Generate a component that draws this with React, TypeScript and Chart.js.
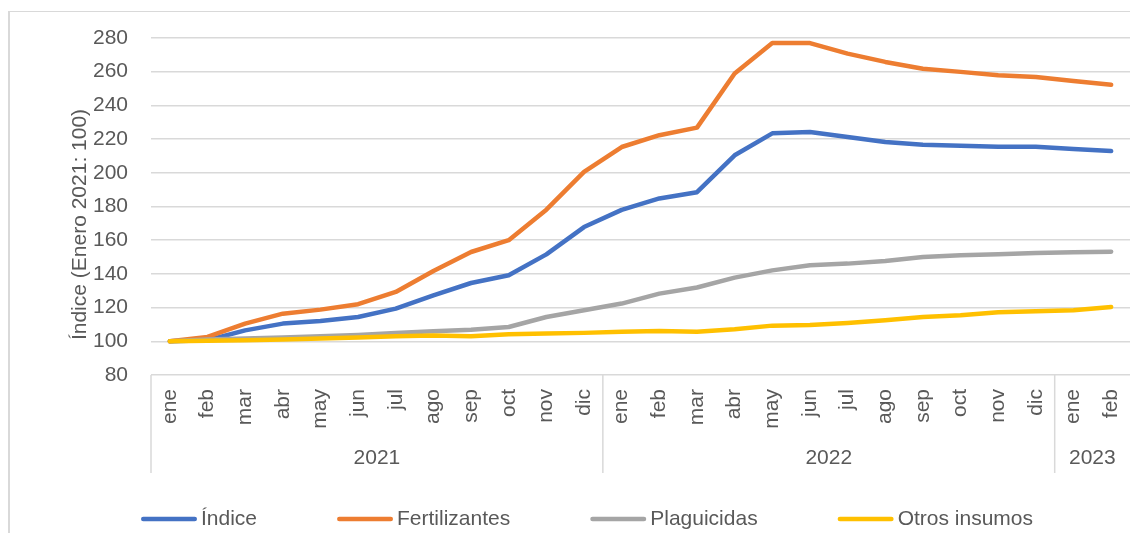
import React, { useEffect, useRef } from 'react';
import { Chart, registerables } from 'chart.js';

Chart.register(...registerables);

const FONT = "'Liberation Sans', Arial, sans-serif";
const FONT_SIZE = 21;
const TEXT_COLOR = '#595959';
const GRID_COLOR = '#d9d9d9';

const months = ['ene', 'feb', 'mar', 'abr', 'may', 'jun', 'jul', 'ago', 'sep', 'oct', 'nov', 'dic',
  'ene', 'feb', 'mar', 'abr', 'may', 'jun', 'jul', 'ago', 'sep', 'oct', 'nov', 'dic',
  'ene', 'feb'];
const years = ['2021', '2022', '2023'];
const monthsPerYear = [12, 12, 2];

const indice = [100, 100.6, 106.5, 110.5, 112, 114.4, 119.4, 127.3, 134.6, 139.2, 151.6, 167.8,
  178, 184.8, 188.5, 210.4, 223.4, 224.2, 221.2, 218.3, 216.7, 216.1, 215.5, 215.4, 214.1, 212.9];
const fertilizantes = [100, 102.6, 110.5, 116.4, 118.8, 122, 129.3, 141.7, 153, 160, 178.1, 200.5,
  215.3, 222.3, 226.8, 258.9, 277, 277, 270.7, 265.8, 261.8, 259.9, 257.9, 256.9, 254.5, 252.3];
const plaguicidas = [100, 101, 101.6, 102.2, 103, 103.8, 105, 105.9, 106.9, 108.5, 114.4, 118.4,
  122.4, 128.3, 131.9, 137.8, 142.1, 145.1, 146.1, 147.7, 150, 151, 151.6, 152.4, 152.8, 153.2];
const otrosInsumos = [100, 100.4, 100.6, 101, 101.6, 102.2, 103, 103.4, 103, 104.2, 104.6, 105,
  105.6, 106.1, 105.6, 107.1, 109.3, 109.7, 110.9, 112.5, 114.4, 115.4, 117.2, 117.8, 118.4, 120.4];

const seriesNames = ['Índice', 'Fertilizantes', 'Plaguicidas', 'Otros insumos'];
const seriesValues = [indice, fertilizantes, plaguicidas, otrosInsumos];
const seriesColors = ['#4472C4', '#ED7D31', '#A5A5A5', '#FFC000'];

const yMin = 80;
const yMax = 280;
const yStep = 20;
const yAxisTitle = 'Índice (Enero 2021: 100)';

const decorPlugin = {
  id: 'decor',
  afterDraw(chart: any) {
    const ctx = chart.ctx;
    const xs = chart.scales.x;
    const area = chart.chartArea;
    const step = xs.getPixelForValue(1) - xs.getPixelForValue(0);
    ctx.save();
    // year separators and labels
    ctx.strokeStyle = GRID_COLOR;
    ctx.lineWidth = 1.5;
    ctx.font = `${FONT_SIZE}px ${FONT}`;
    ctx.fillStyle = TEXT_COLOR;
    ctx.textAlign = 'center';
    ctx.textBaseline = 'middle';
    let idx = 0;
    years.forEach((yr, k) => {
      const start = xs.getPixelForValue(idx) - step / 2;
      ctx.beginPath();
      ctx.moveTo(start, area.bottom);
      ctx.lineTo(start, area.bottom + 98);
      ctx.stroke();
      const first = xs.getPixelForValue(idx);
      const last = xs.getPixelForValue(idx + monthsPerYear[k] - 1);
      ctx.fillText(yr, (first + last) / 2, area.bottom + 83);
      idx += monthsPerYear[k];
    });
    // y axis title
    ctx.save();
    ctx.translate(80, (area.top + area.bottom) / 2 + 18);
    ctx.rotate(-Math.PI / 2);
    ctx.fillText(yAxisTitle, 0, 0);
    ctx.restore();
    // legend
    const ly = area.bottom + 144;
    const sample = 56;
    const textGap = 4;
    const itemGap = 80;
    const items = chart.data.datasets.map((ds: any) => ({
      ds,
      w: sample + textGap + ctx.measureText(ds.label).width,
    }));
    const total = items.reduce((s: number, it: any) => s + it.w, 0) + itemGap * (items.length - 1);
    let cursor = 587 - total / 2;
    ctx.textAlign = 'left';
    ctx.lineCap = 'round';
    items.forEach((it: any) => {
      ctx.strokeStyle = it.ds.borderColor;
      ctx.lineWidth = 4.5;
      ctx.beginPath();
      ctx.moveTo(cursor + 2.25, ly);
      ctx.lineTo(cursor + sample - 2.25, ly);
      ctx.stroke();
      ctx.fillStyle = TEXT_COLOR;
      ctx.fillText(it.ds.label, cursor + sample + textGap, ly);
      cursor += it.w + itemGap;
    });
    ctx.restore();
  },
};

export default function App() {
  const ref = useRef<HTMLCanvasElement | null>(null);
  useEffect(() => {
    if (!ref.current) return;
    const chart = new Chart(ref.current, {
      type: 'line',
      data: {
        labels: months,
        datasets: seriesNames.map((name, i) => ({
          label: name,
          data: seriesValues[i],
          borderColor: seriesColors[i],
          backgroundColor: seriesColors[i],
          borderWidth: 4.5,
          borderCapStyle: 'round',
          borderJoinStyle: 'round',
          pointRadius: 0,
          pointHoverRadius: 0,
          tension: 0,
          fill: false,
          order: seriesNames.length - i,
        })),
      },
      options: {
        animation: false,
        responsive: true,
        maintainAspectRatio: false,
        layout: { padding: { top: 38, left: 0, right: 0, bottom: 0 } },
        plugins: {
          legend: { display: false },
          tooltip: { enabled: false },
          title: { display: false },
        },
        scales: {
          x: {
            type: 'category',
            offset: true,
            grid: { display: false, drawTicks: false },
            border: { display: false },
            ticks: {
              autoSkip: false,
              minRotation: 90,
              maxRotation: 90,
              padding: 14,
              color: TEXT_COLOR,
              font: { family: FONT, size: FONT_SIZE },
            },
            afterFit: (scale: any) => {
              scale.height = 158;
              scale.paddingRight = 0;
              scale.paddingLeft = 0;
            },
          },
          y: {
            min: yMin,
            max: yMax,
            grid: { color: GRID_COLOR, lineWidth: 1.5, drawTicks: false },
            border: { display: false },
            ticks: {
              stepSize: yStep,
              padding: 23,
              color: TEXT_COLOR,
              font: { family: FONT, size: FONT_SIZE },
            },
            afterFit: (scale: any) => { scale.width = 151; },
          },
        },
      },
      plugins: [decorPlugin],
    } as any);
    return () => chart.destroy();
  }, []);

  return (
    <>
      <div style={{ position: 'absolute', left: 8, top: 11, width: 1120, height: 521, borderLeft: `2px solid ${GRID_COLOR}`, borderTop: `1px solid ${GRID_COLOR}` }} />
      <div style={{ position: 'absolute', left: 0, top: 0, width: 1130, height: 533 }}>
        <canvas ref={ref} />
      </div>
    </>
  );
}
